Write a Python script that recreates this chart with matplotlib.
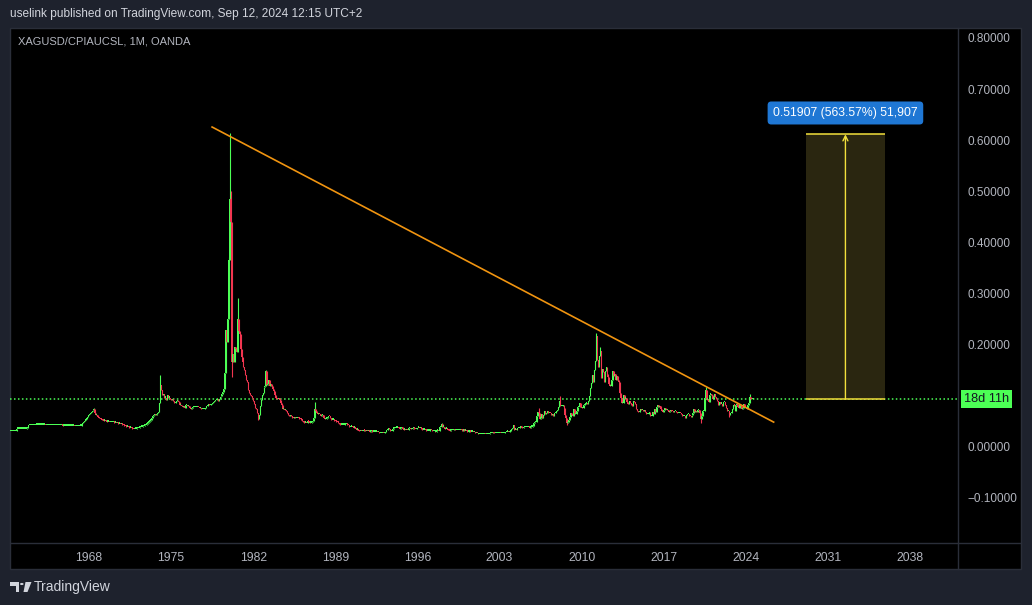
import numpy as np
import matplotlib
matplotlib.use('Agg')
import matplotlib.pyplot as plt
import matplotlib.transforms as mtransforms
from matplotlib.patches import Rectangle, Polygon, Circle
from matplotlib.lines import Line2D

plt.rcParams['font.family'] = ['Liberation Sans', 'DejaVu Sans']

# XAGUSD/CPIAUCSL monthly closes, in thousandths, Jan 1961 .. Sep 2024
start_year = 1961
closes = [
    29, 29, 29, 29, 29, 29, 29, 29, 29, 29, 34, 34,          # 1961
    34, 34, 34, 34, 34, 34, 34, 34, 35, 35, 41, 41,          # 1962
    41, 41, 41, 41, 41, 42, 42, 42, 42, 42, 42, 42,
    42, 42, 42, 41, 41, 41, 41, 41, 41, 41, 41, 41,
    41, 41, 41, 41, 41, 41, 41, 41, 41, 40, 40, 40,          # 1965
    40, 40, 40, 40, 40, 40, 40, 40, 40, 39, 39, 39,
    39, 39, 40, 40, 40, 45, 47, 50, 52, 54, 57, 60,
    62, 64, 66, 68, 70, 72, 64, 60, 60, 57, 56, 55,
    53, 52, 51, 50, 50, 49, 48, 48, 48, 47, 47, 47,
    47, 47, 46, 46, 45, 45, 44, 44, 43, 43, 42, 41,          # 1970
    40, 39, 38, 38, 37, 36, 36, 35, 34, 33, 33, 34,
    34, 35, 35, 36, 37, 38, 38, 39, 40, 41, 42, 44,
    46, 48, 50, 52, 55, 58, 60, 62, 60, 62, 64, 66,
    85, 120, 110, 100, 102, 95, 95, 90, 100, 95, 95, 92,
    90, 92, 88, 84, 85, 88, 90, 88, 86, 80, 80, 78,          # 1975
    76, 78, 74, 80, 80, 78, 78, 74, 72, 74, 76, 76,
    76, 76, 76, 77, 76, 74, 74, 72, 73, 73, 73, 74,
    78, 78, 82, 80, 80, 82, 84, 86, 88, 90, 90, 92,
    88, 92, 96, 98, 102, 106, 112, 144, 227, 205, 250, 365,
    485, 440, 165, 180, 165, 195, 190, 185, 250, 225, 220, 190,  # 1980
    175, 165, 155, 150, 140, 130, 125, 110, 105, 100, 98, 95,
    88, 82, 75, 72, 65, 54, 60, 78, 90, 100, 105, 115,
    118, 148, 120, 122, 130, 118, 122, 118, 112, 108, 100, 95,
    93, 92, 95, 90, 85, 80, 72, 72, 70, 70, 68, 64,
    60, 58, 60, 58, 56, 55, 57, 55, 55, 56, 55, 54,          # 1985
    53, 52, 50, 47, 46, 46, 45, 45, 50, 48, 46, 46,
    47, 49, 56, 72, 68, 64, 62, 63, 62, 58, 60, 60,
    55, 53, 54, 55, 57, 59, 58, 55, 52, 52, 52, 50,
    49, 48, 47, 46, 43, 42, 42, 42, 42, 42, 43, 44,
    42, 41, 38, 37, 38, 38, 37, 36, 36, 34, 32, 32,          # 1990
    30, 29, 30, 29, 29, 32, 30, 29, 30, 29, 29, 28,
    29, 29, 28, 28, 28, 28, 28, 27, 27, 26, 26, 26,
    26, 25, 25, 28, 31, 31, 36, 33, 29, 30, 30, 34,
    35, 35, 36, 36, 36, 35, 34, 35, 37, 34, 32, 32,
    31, 32, 31, 35, 35, 33, 33, 35, 35, 34, 33, 33,          # 1995
    36, 36, 35, 35, 34, 32, 32, 32, 31, 30, 30, 30,
    30, 32, 31, 29, 29, 29, 28, 28, 30, 30, 29, 37,
    38, 43, 38, 38, 33, 34, 34, 32, 31, 30, 31, 31,
    31, 33, 31, 31, 31, 31, 31, 31, 32, 31, 30, 32,
    30, 30, 29, 28, 28, 29, 28, 28, 28, 27, 27, 26,          # 2000
    26, 25, 24, 24, 24, 24, 24, 24, 24, 24, 23, 24,
    24, 24, 25, 25, 26, 27, 26, 25, 25, 25, 25, 26,
    26, 25, 25, 25, 25, 25, 27, 28, 28, 27, 28, 29,
    33, 36, 41, 32, 32, 31, 35, 35, 36, 38, 39, 36,
    35, 37, 37, 37, 37, 37, 37, 36, 38, 38, 40, 45,          # 2005
    47, 48, 58, 67, 65, 54, 56, 62, 55, 61, 68, 63,
    65, 69, 65, 65, 64, 60, 62, 58, 64, 65, 68, 70,
    77, 88, 78, 78, 78, 80, 75, 60, 56, 45, 48, 52,
    57, 64, 61, 58, 73, 63, 63, 69, 76, 77, 85, 77,
    75, 75, 80, 81, 83, 84, 82, 89, 99, 113, 123, 140,       # 2010
    126, 150, 167, 216, 169, 155, 177, 186, 134, 151, 146, 126,
    147, 156, 141, 136, 122, 118, 118, 130, 147, 138, 141, 129,
    137, 129, 125, 104, 95, 84, 84, 100, 93, 94, 87, 83,
    82, 89, 84, 81, 79, 88, 86, 82, 72, 69, 66, 67,
    72, 70, 71, 68, 71, 67, 62, 62, 62, 66, 59, 58,          # 2015
    59, 66, 63, 73, 66, 77, 80, 77, 79, 72, 68, 66,
    70, 74, 72, 70, 71, 67, 68, 70, 69, 68, 67, 68,
    69, 66, 65, 65, 65, 64, 62, 58, 58, 58, 56, 61,
    62, 62, 59, 58, 57, 60, 64, 72, 67, 69, 66, 70,
    70, 65, 54, 59, 69, 69, 94, 110, 91, 92, 87, 101,        # 2020
    103, 100, 92, 97, 102, 96, 93, 88, 80, 87, 83, 83,
    79, 86, 87, 80, 74, 69, 69, 60, 64, 64, 72, 80,
    79, 69, 80, 82, 77, 74, 81, 79, 72, 74, 82, 77,
    74, 73, 80, 84, 97, 93, 92, 92, 92.1,                    # 2024
]
# notable monthly extremes (thousandths)
highs = {'1968-06': 74, '1974-02': 139, '1979-12': 370, '1980-01': 614,
         '1980-02': 500, '1980-09': 290, '1983-02': 150, '1987-04': 86,
         '1998-02': 46, '2006-05': 74, '2008-03': 98, '2011-04': 222,
         '2011-08': 194, '2020-08': 116, '2024-05': 103}
lows = {'1980-03': 135, '1982-06': 51, '2008-10': 41, '2020-03': 45,
        '2022-08': 57}

year_ticks = list(range(1968, 2039, 7))
price_ticks = [-0.1, 0.0, 0.1, 0.2, 0.3, 0.4, 0.5, 0.6, 0.7, 0.8]
last_price = 0.0921
trend_x = [1978.49, 2026.38]
trend_y = [0.6255, 0.047]
range_x = [2029.1, 2035.9]
range_y = [0.09211, 0.61118]
range_label = '0.51907 (563.57%) 51,907'
countdown = '18d 11h'

W, H = 1032, 605
BG = '#1e222d'
BORDER = '#2a2e39'
TXT = '#b2b5be'
UP = '#4cff55'
DOWN = '#f23650'


def fx(x):
    return x / W


def fy(y):
    return 1 - y / H


fig = plt.figure(figsize=(W / 100, H / 100), dpi=100, facecolor=BG)

# black chart panel (drawn below the axes)
fig.patches.append(Rectangle((fx(10), fy(569)), fx(1011), 541 / H, transform=fig.transFigure,
                             facecolor='black', edgecolor=BORDER, lw=1, zorder=-5))
fig.add_artist(Line2D([fx(958), fx(958)], [fy(28), fy(569)], color=BORDER, lw=1, zorder=-4))
fig.add_artist(Line2D([fx(10), fx(1021)], [fy(543), fy(543)], color=BORDER, lw=1, zorder=-4))

ax = fig.add_axes([fx(10), fy(543), 948 / W, 515 / H])
ax.set_facecolor('none')
for s in ax.spines.values():
    s.set_visible(False)
ax.set_xlim(1961.256, 2042.10)
ax.set_ylim(-0.190, 0.8196)

# candles
c = np.array(closes, dtype=float) / 1000
o = np.r_[c[0], c[:-1]]
x = start_year + np.arange(len(c)) / 12
hi = np.maximum(o, c)
lo = np.minimum(o, c)
for k, v in highs.items():
    i = (int(k[:4]) - start_year) * 12 + int(k[5:]) - 1
    hi[i] = v / 1000
for k, v in lows.items():
    i = (int(k[:4]) - start_year) * 12 + int(k[5:]) - 1
    lo[i] = v / 1000
cols = np.where(c >= o, UP, DOWN)
px_y = 1.0096 / 515  # one pixel in price units
ax.vlines(x, lo, hi, colors=cols, lw=0.8, zorder=2)
ax.bar(x, np.maximum(np.abs(c - o), 1.3 * px_y), bottom=np.minimum(o, c), width=1 / 12,
       color=cols, linewidth=0, align='center', zorder=2)

# last price line
ax.axhline(last_price, color=UP, lw=1.1, ls=(0, (1, 1.6)), zorder=1)

# trend line
ax.plot(trend_x, trend_y, color='#f09410', lw=1.2, zorder=3)

# price range tool
ax.add_patch(Rectangle((range_x[0], range_y[0]), range_x[1] - range_x[0], range_y[1] - range_y[0],
                       facecolor='#2a2610', edgecolor='none', zorder=1))
ax.hlines(range_y, range_x[0], range_x[1], color='#f2e03c', lw=1.1, zorder=3)
mid = (range_x[0] + range_x[1]) / 2
ax.annotate('', xy=(mid, range_y[1]), xytext=(mid, range_y[0]),
            arrowprops=dict(arrowstyle='->', color='#f2e03c', lw=1.0, mutation_scale=9,
                            shrinkA=0, shrinkB=0), zorder=3)
ax.text(mid, 0.653, range_label, ha='center', va='center', color='white', fontsize=8.8,
        bbox=dict(boxstyle='round,pad=0.45,rounding_size=0.3', fc='#1f77d4', ec='none'), zorder=4)

# axes ticks
ax.yaxis.tick_right()
ax.set_yticks(price_ticks)
ax.set_yticklabels([f'{v:.5f}'.replace('-', '\u2212') for v in price_ticks])
ax.set_xticks(year_ticks)
ax.set_xticklabels([str(y) for y in year_ticks])
ax.tick_params(axis='y', length=0, pad=6.5, labelsize=8.5, colors=TXT)
ax.tick_params(axis='x', length=0, pad=6.5, labelsize=8.8, colors=TXT)

# countdown tag on the price axis
tr = mtransforms.blended_transform_factory(ax.transAxes, ax.transData)
ax.text(1 + 6 / 948, last_price, countdown, transform=tr, ha='left', va='center',
        color='#131722', fontsize=9.2, clip_on=False, zorder=10,
        bbox=dict(boxstyle='square,pad=0.25', fc=UP, ec='none'))

# texts
fig.text(fx(10), fy(14), 'uselink published on TradingView.com, Sep 12, 2024 12:15 UTC+2',
         color='#d1d4dc', fontsize=8.6, va='center', ha='left')
fig.text(fx(18), fy(42), 'XAGUSD/CPIAUCSL, 1M, OANDA', color=TXT, fontsize=8.0,
         va='center', ha='left')

# TradingView logo
logo = '#d1d4dc'
fig.patches.append(Polygon([(fx(10), fy(582)), (fx(19), fy(582)), (fx(19), fy(592)), (fx(15.5), fy(592)),
                            (fx(15.5), fy(585.5)), (fx(10), fy(585.5))], closed=True,
                           transform=fig.transFigure, fc=logo, ec='none'))
fig.patches.append(Circle((fx(21.8), fy(584)), 1.8 / W, transform=fig.transFigure, fc=logo, ec='none'))
fig.patches.append(Polygon([(fx(25.5), fy(582)), (fx(31.5), fy(582)), (fx(27.5), fy(592)), (fx(23.5), fy(592))],
                           closed=True, transform=fig.transFigure, fc=logo, ec='none'))
fig.text(fx(34), fy(587), 'TradingView', color=logo, fontsize=10, va='center', ha='left')

fig.savefig('out.png', dpi=100, facecolor=BG)
